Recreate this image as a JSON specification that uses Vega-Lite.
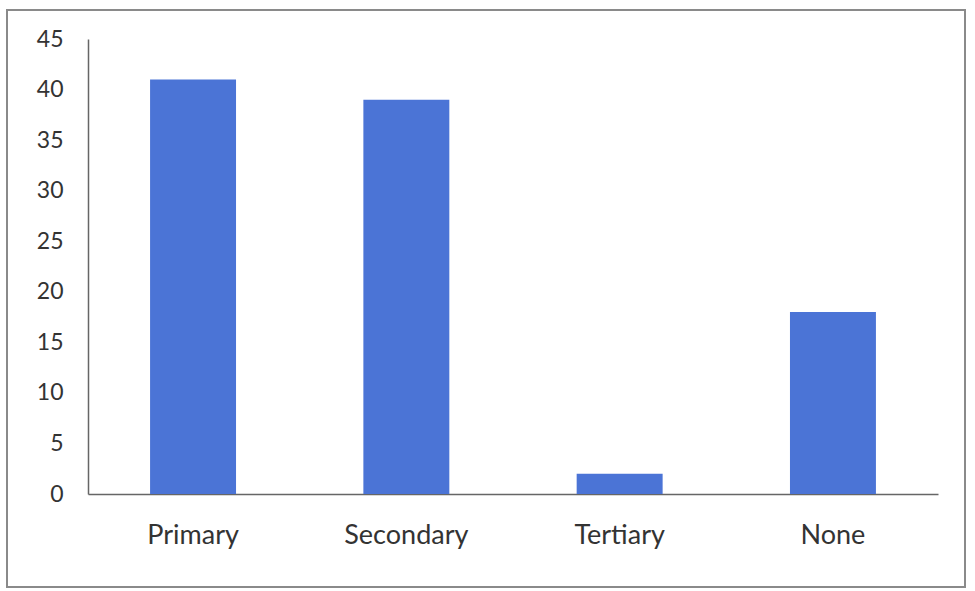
{
  "$schema": "https://vega.github.io/schema/vega-lite/v6.json",
  "width": 958,
  "height": 577,
  "autosize": {"type": "none"},
  "padding": {"left": 7, "top": 10, "right": 10, "bottom": 4},
  "background": "white",
  "data": {
    "values": [
      {"level": "Primary", "count": 41},
      {"level": "Secondary", "count": 39},
      {"level": "Tertiary", "count": 2},
      {"level": "None", "count": 18}
    ]
  },
  "mark": {"type": "bar", "color": "#4b74d6"},
  "encoding": {
    "x": {
      "field": "level",
      "type": "nominal",
      "sort": null,
      "scale": {"range": [81, 931], "paddingInner": 0.597, "paddingOuter": 0.291},
      "axis": {
        "title": null,
        "orient": "bottom",
        "offset": -93,
        "labelAngle": 0,
        "ticks": false,
        "tickSize": 0,
        "labelPadding": 28,
        "labelFont": "Lato",
        "labelFontSize": 27,
        "labelColor": "#333333",
        "domainColor": "#666666",
        "domainWidth": 1.5
      }
    },
    "y": {
      "field": "count",
      "type": "quantitative",
      "scale": {"domain": [0, 45], "range": [484, 29], "nice": false},
      "axis": {
        "title": null,
        "orient": "left",
        "offset": -81,
        "values": [0, 5, 10, 15, 20, 25, 30, 35, 40, 45],
        "grid": false,
        "ticks": false,
        "tickSize": 0,
        "labelPadding": 25,
        "labelFont": "Lato",
        "labelFontSize": 23,
        "labelColor": "#333333",
        "domainColor": "#666666",
        "domainWidth": 1.5
      }
    }
  },
  "config": {
    "view": {"stroke": "#8a8a8a", "strokeWidth": 2}
  }
}
